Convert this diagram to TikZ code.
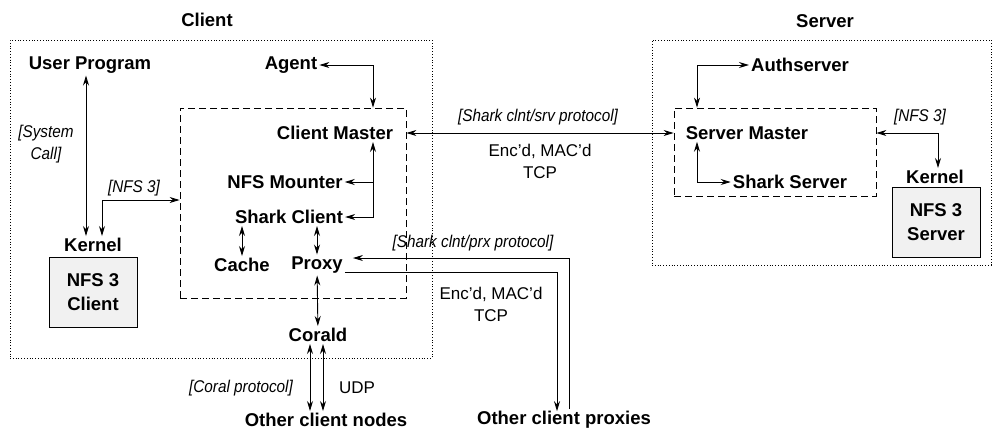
\documentclass[tikz,border=0pt]{standalone}
\usepackage{fontspec}
\setmainfont{Liberation Sans}
\newfontfamily\labfont[FakeStretch=0.9]{Liberation Sans}
\usetikzlibrary{arrows.meta,positioning}

\begin{document}
\begin{tikzpicture}[x=1pt, y=-1pt,
    comp/.style={font=\fontsize{18.5}{22}\selectfont\bfseries, inner sep=2pt},
    proto/.style={font=\labfont\fontsize{17}{22}\selectfont\itshape, inner sep=1pt, align=center},
    plain/.style={font=\fontsize{17}{22}\selectfont, inner sep=1pt, align=center},
    kbox/.style={draw, fill=gray!11, line width=0.9pt, minimum width=88pt, minimum height=70pt,
        align=center, font=\fontsize{18.5}{24}\selectfont\bfseries},
    host/.style={draw, dotted, line width=0.8pt},
    grp/.style={draw, dash pattern=on 7pt off 4pt, line width=0.8pt},
    link/.style={line width=0.9pt, {Stealth[length=10pt,width=6pt]}-{Stealth[length=10pt,width=6pt]}},
    tip/.style={line width=0.9pt, -{Stealth[length=10pt,width=6pt]}}]
    \useasboundingbox (0,0) rectangle (993,429);

    % Hosts
    \node[host, minimum width=422pt, minimum height=318pt] (client) at (221,199) {};
    \node[host, minimum width=339pt, minimum height=225pt] (server) at (821.5,152.5) {};
    \node[comp] (clientlbl) at (207,20) {Client};
    \node[comp] (serverlbl) at (825,21) {Server};

    % Shark groups
    \node[grp, minimum width=226pt, minimum height=190pt] (cgrp) at (293,203) {};
    \node[grp, minimum width=202pt, minimum height=88pt] (sgrp) at (775,152) {};

    % Client side
    \node[comp] (user) at (90,65) {User Program};
    \node[comp] (agent) at (291,65) {Agent};
    \node[comp] (cmaster) at (335,133) {Client Master};
    \node[comp] (mounter) at (285,182) {NFS Mounter};
    \node[comp] (sclient) at (289,217) {Shark Client};
    \node[comp] (cache) at (242,265) {Cache};
    \node[comp] (proxy) at (317,265) {Proxy};
    \node[comp] (corald) at (318,335) {Corald};
    \node[comp] (peers) at (326,420) {Other client nodes};
    \node[comp] (proxies) at (564,420) {Other client proxies};
    \node[comp] (ckernel) at (93,245) {Kernel};
    \node[kbox] (cnfs) at (93,292) {NFS 3\\Client};

    % Server side
    \node[comp] (auth) at (800,65) {Authserver};
    \node[comp] (smaster) at (747,133) {Server Master};
    \node[comp] (sserver) at (790,182) {Shark Server};
    \node[comp] (skernel) at (935,177) {Kernel};
    \node[kbox] (snfs) at (936,222) {NFS 3\\Server};

    % Protocol labels
    \node[proto] (syscall) at (46,144) {[System\\Call]};
    \node[proto] (cnfslbl) at (134,188) {[NFS 3]};
    \node[proto] (srvproto) at (538,117) {[Shark clnt/srv protocol]};
    \node[plain] (srvtcp) at (540,161) {Enc'd, MAC'd\\TCP};
    \node[proto] (prxproto) at (473,243) {[Shark clnt/prx protocol]};
    \node[plain] (prxtcp) at (491,304) {Enc'd, MAC'd\\TCP};
    \node[proto] (coralproto) at (241,388) {[Coral protocol]};
    \node[plain] (udp) at (357,388) {UDP};
    \node[proto] (snfslbl) at (920,117) {[NFS 3]};

    % Line positions
    \coordinate (cmline) at (373,0);
    \coordinate (upline) at (86,0);
    \coordinate (nfsline) at (102,200);
    \coordinate (prxout) at (569,0);
    \coordinate (prxin) at (557,0);
    \coordinate (authline) at (697,0);
    \coordinate (snfsline) at (938,0);

    % Client connectors
    \draw[link] (cgrp.east |- cmaster) -- (sgrp.west |- cmaster);
    \draw[link] (agent.east) -| (cgrp.north -| cmline);
    \draw[link] (sclient.east) -| (cmaster.south -| cmline);
    \draw[tip] (mounter.east -| cmline) -- (mounter.east);
    \draw[link] (sclient.south -| cache) -- (cache.north);
    \draw[link] (sclient.south -| proxy) -- (proxy.north);
    \draw[link] (proxy) -- (corald);
    \draw[link] ([xshift=-8pt]corald.south) -- ([xshift=-8pt]corald.south |- peers.north);
    \draw[link] ([xshift=5pt]corald.south) -- ([xshift=5pt]corald.south |- peers.north);
    \draw[link] (user.south -| upline) -- (ckernel.north -| upline);
    \draw[link] (ckernel.north -| nfsline) |- (cgrp.west |- nfsline);
    \draw[tip] (proxies.north -| prxout) |- ([xshift=8pt,yshift=7pt]proxy.east);
    \draw[tip] ([yshift=-7pt]proxy.east) -| ([yshift=-2pt]proxies.north -| prxin);

    % Server connectors
    \draw[link] (sgrp.north -| authline) |- (auth.west);
    \draw[link] (smaster.south -| authline) |- (sserver.west);
    \draw[link] (sgrp.east |- smaster) -| (skernel.north -| snfsline);
\end{tikzpicture}
\end{document}
